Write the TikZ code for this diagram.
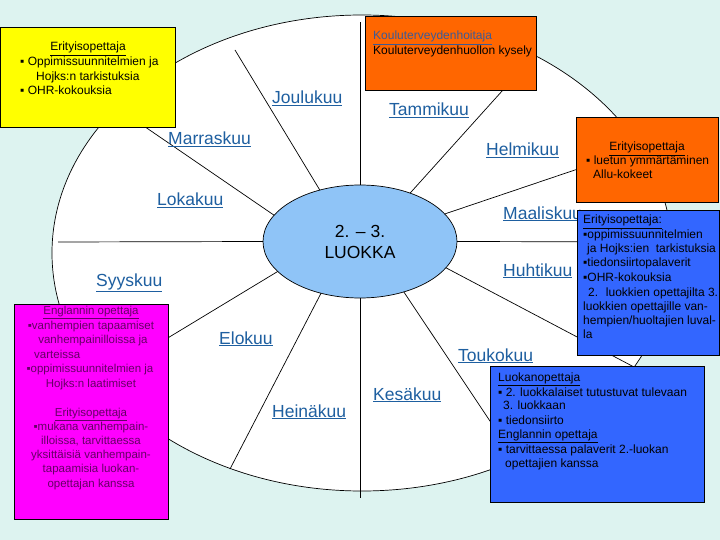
\documentclass[tikz,border=0pt]{standalone}
\usepackage{fontspec}
\setmainfont{Liberation Sans}
\usetikzlibrary{shapes.geometric}
\definecolor{bg}{HTML}{DDF3F0}
\definecolor{ybox}{HTML}{FFFF00}
\definecolor{obox}{HTML}{FF6600}
\definecolor{bbox}{HTML}{3366FF}
\definecolor{pbox}{HTML}{FF00FF}
\definecolor{inner}{HTML}{8FC4F7}
\definecolor{monthblue}{HTML}{1E5FA0}
\definecolor{linkgray}{HTML}{3C5A96}
\definecolor{ptext}{HTML}{660066}
\begin{document}
\begin{tikzpicture}[x=1pt,y=-1pt,
  spoke/.style={draw=black, line width=0.7pt},
  month/.style={anchor=base west, inner sep=0, text=monthblue, font=\fontsize{17.5}{21}\selectfont},
  boxframe/.style={draw=black, line width=0.9pt},
  ln/.style={anchor=base west, inner sep=0, font=\fontsize{12}{14}\selectfont},
  lnc/.style={anchor=base, inner sep=0, font=\fontsize{12}{14}\selectfont},
  pl/.style={anchor=base, inner sep=0, text=ptext, font=\fontsize{11.5}{14}\selectfont},
  plw/.style={anchor=base west, inner sep=0, text=ptext, font=\fontsize{11.5}{14}\selectfont}]
\useasboundingbox (0,0) rectangle (720,540);
\fill[bg] (0,0) rectangle (720,540);
% outer ellipse
\node[draw=black, line width=0.7pt, fill=white, ellipse, minimum width=620pt, minimum height=476pt, inner sep=0, outer sep=0] (outer) at (362,253) {};
% inner ellipse
\node[draw=black, line width=0.7pt, fill=inner, ellipse, minimum width=194pt, minimum height=113pt, inner sep=0, outer sep=0, align=center, font=\fontsize{17.5}{21}\selectfont] (c) at (360,241.5) {2. -- 3.\\LUOKKA};
% spoke ends
\coordinate (o1) at (360,22);
\coordinate (o2) at (235,50);
\coordinate (o3) at (116,107);
\coordinate (o4) at (58,242);
\coordinate (o5) at (100,379);
\coordinate (o6) at (230,469);
\coordinate (o7) at (360,498);
\coordinate (o8) at (516,460);
\coordinate (o9) at (530,60);
\coordinate (o10) at (640,148);
\coordinate (o11) at (672,242);
\coordinate (o12) at (634,367);
\foreach \i/\a in {1/90,2/128,3/163,4/180,5/200,6/233,7/270,8/311,9/44,10/18,11/0,12/343}
  \draw[spoke] (c.\a) -- (o\i);
% months
\node[month] (m12) at (272,104) {\underline{Joulukuu}};
\node[month] (m1) at (389,116) {\underline{Tammikuu}};
\node[month] (m11) at (168,145) {\underline{Marraskuu}};
\node[month] (m2) at (486,156) {\underline{Helmikuu}};
\node[month] (m10) at (157,206) {\underline{Lokakuu}};
\node[month] (m3) at (503,219) {\underline{Maaliskuu}};
\node[month] (m4) at (503,276) {\underline{Huhtikuu}};
\node[month] (m9) at (96,286) {\underline{Syyskuu}};
\node[month] (m8) at (219,344) {\underline{Elokuu}};
\node[month] (m5) at (458,361) {\underline{Toukokuu}};
\node[month] (m6) at (373,400) {\underline{Kesäkuu}};
\node[month] (m7) at (272,417) {\underline{Heinäkuu}};
% yellow box
\draw[boxframe, fill=ybox] (0.5,27) rectangle (175,127);
\node[lnc] (y1) at (88,51) {\underline{Erityisopettaja}};
\node[ln] (y2) at (20,66) {▪ Oppimissuunnitelmien ja};
\node[ln] (y3) at (36,81) {Hojks:n tarkistuksia};
\node[ln] (y4) at (20,95) {▪ OHR-kokouksia};
% orange top box
\draw[boxframe, fill=obox] (365,16) rectangle (536,90);
\node[ln, text=linkgray] (k1) at (373,40) {\underline{Kouluterveydenhoitaja}};
\node[ln] (k2) at (373,55) {Kouluterveydenhuollon kysely};
% orange right box
\draw[boxframe, fill=obox] (576,117) rectangle (718,202);
\node[lnc] (r1) at (647,151) {\underline{Erityisopettaja}};
\node[ln] (r2) at (586,165) {▪ luetun ymmärtäminen};
\node[ln] (r3) at (593,179) {Allu-kokeet};
% blue right box
\draw[boxframe, fill=bbox] (577,210) rectangle (719.5,355);
\node[ln] (b1) at (583,224) {\underline{Erityisopettaja:}};
\node[ln] (b2) at (583,238) {▪oppimissuunnitelmien};
\node[ln] (b3) at (587,252) {ja Hojks:ien~ tarkistuksia};
\node[ln] (b4) at (583,266) {▪tiedonsiirtopalaverit};
\node[ln] (b5) at (583,281) {▪OHR-kokouksia};
\node[ln] (b6) at (588,296) {2.~ luokkien opettajilta 3.};
\node[ln] (b7) at (583,310) {luokkien opettajille van-};
\node[ln] (b8) at (583,324) {hempien/huoltajien luval-};
\node[ln] (b9) at (583,338) {la};
% pink box
\draw[boxframe, fill=pbox] (14,304) rectangle (168,519);
\node[pl] (p1) at (91,314) {\underline{Englannin opettaja}};
\node[pl] (p2) at (91,329) {▪vanhempien tapaamiset};
\node[pl] (p3) at (93,343) {vanhempainilloissa ja};
\node[plw] (p4) at (34,358) {varteissa};
\node[pl] (p5) at (90,372) {▪oppimissuunnitelmien ja};
\node[pl] (p6) at (91,387) {Hojks:n laatimiset};
\node[pl] (p7) at (91,416) {\underline{Erityisopettaja}};
\node[pl] (p8) at (91,430) {▪mukana vanhempain-};
\node[pl] (p9) at (91,444) {illoissa, tarvittaessa};
\node[pl] (p10) at (91,458) {yksittäisiä vanhempain-};
\node[pl] (p11) at (91,472) {tapaamisia luokan-};
\node[pl] (p12) at (91,487) {opettajan kanssa};
% blue bottom box
\draw[boxframe, fill=bbox] (490,366) rectangle (704,502);
\node[ln] (l1) at (498,381) {\underline{Luokanopettaja}};
\node[ln] (l2) at (498,396) {▪ 2. luokkalaiset tutustuvat tulevaan};
\node[ln] (l3) at (503,409) {3. luokkaan};
\node[ln] (l4) at (498,424) {▪ tiedonsiirto};
\node[ln] (l5) at (498,438) {\underline{Englannin opettaja}};
\node[ln] (l6) at (498,453) {▪ tarvittaessa palaverit 2.-luokan};
\node[ln] (l7) at (505,467) {opettajien kanssa};
\end{tikzpicture}
\end{document}
